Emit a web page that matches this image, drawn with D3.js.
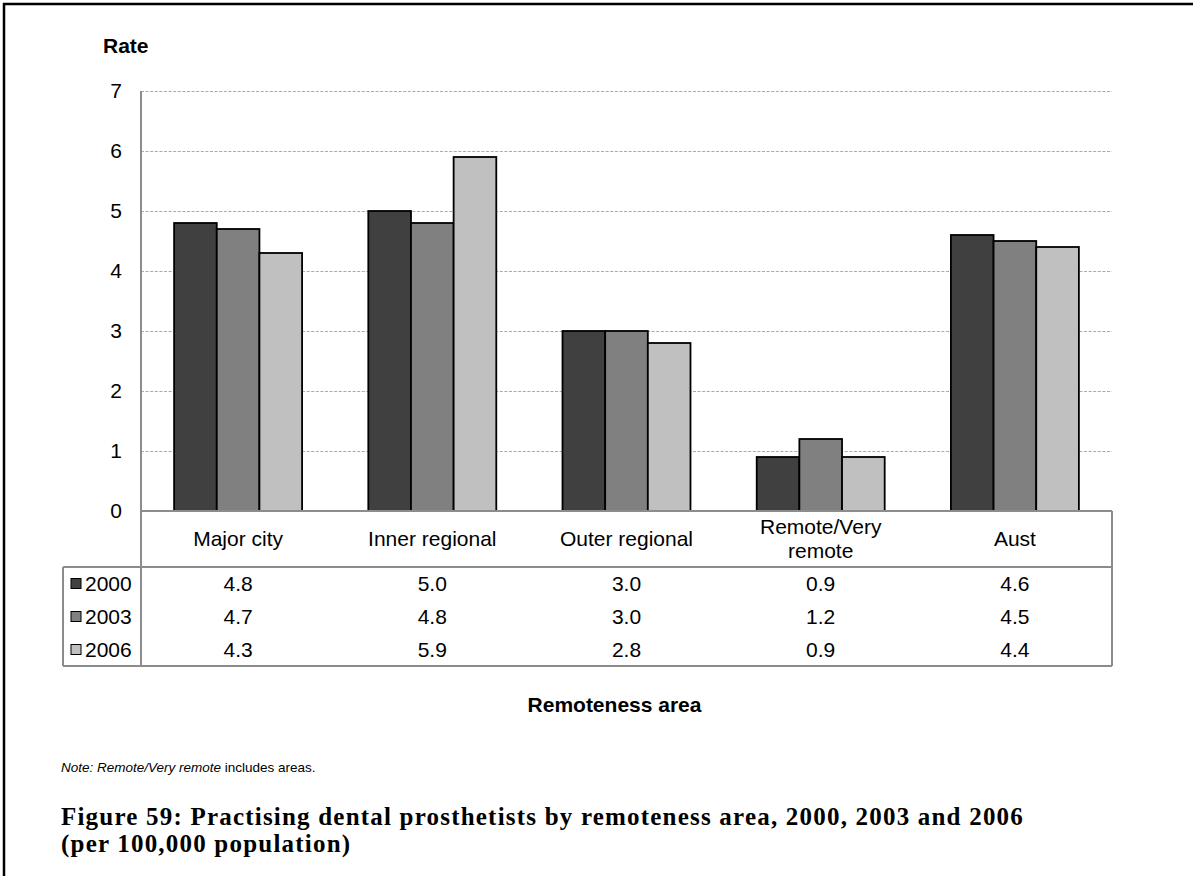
<!DOCTYPE html>
<html><head><meta charset="utf-8">
<script src="https://cdn.jsdelivr.net/npm/d3@7"></script>
<style>
body{margin:0;background:#fff}
svg{display:block}
text{font-family:"Liberation Sans",Arial,sans-serif;fill:#000}
</style>
</head><body>
<svg id="c" width="1193" height="876"></svg>
<script>
// ---- data ----
const categories = ["Major city", "Inner regional", "Outer regional", "Remote/Very remote", "Aust"];
const categoryLines = [["Major city"], ["Inner regional"], ["Outer regional"], ["Remote/Very", "remote"], ["Aust"]];
const seriesNames = ["2000", "2003", "2006"];
const values2000 = [4.8, 5.0, 3.0, 0.9, 4.6];
const values2003 = [4.7, 4.8, 3.0, 1.2, 4.5];
const values2006 = [4.3, 5.9, 2.8, 0.9, 4.4];
const yTicks = [0, 1, 2, 3, 4, 5, 6, 7];
const yAxisTitle = "Rate";
const xAxisTitle = "Remoteness area";
const noteItalic = "Note: Remote/Very remote";
const noteRest = " includes areas.";
const titleLines = ["Figure 59: Practising dental prosthetists by remoteness area, 2000, 2003 and 2006", "(per 100,000 population)"];

const seriesValues = [values2000, values2003, values2006];
const colors = ["#404040", "#808080", "#c0c0c0"];

// ---- layout ----
const plotL = 141, plotR = 1112, plotT = 91, plotB = 511;
const catRowB = 567, tableB = 666, tableL = 63;
const lineCol = "#8c8c8c";

const svg = d3.select("#c");

const y = d3.scaleLinear().domain([0, 7]).range([plotB, plotT]);
const x = d3.scaleBand().domain(categories).range([plotL, plotR]).paddingInner(0.341).paddingOuter(0.1705);
const xs = d3.scaleBand().domain(seriesNames).range([0, x.bandwidth()]);
const rowY = d3.scaleBand().domain(seriesNames).range([catRowB, tableB]);

// frame
svg.append("line").attr("x1", 3).attr("x2", 1193).attr("y1", 4).attr("y2", 4).attr("stroke", "#000").attr("stroke-width", 2.5);
svg.append("line").attr("x1", 4).attr("x2", 4).attr("y1", 3).attr("y2", 876).attr("stroke", "#000").attr("stroke-width", 2.5);

// gridlines + tick labels via axis
const yAxis = d3.axisLeft(y).tickValues(yTicks).tickSize(-(plotR - plotL)).tickPadding(19).tickFormat(d3.format("d"));
const gy = svg.append("g").attr("transform", `translate(${plotL},0)`).call(yAxis);
gy.select(".domain").remove();
gy.selectAll(".tick line")
  .attr("stroke", "#aaaaaa").attr("stroke-width", 1.2).attr("stroke-dasharray", "3,1.6")
  .attr("opacity", d => d === 0 ? 0 : 1);
gy.selectAll(".tick text").attr("font-size", 21).attr("font-family", '"Liberation Sans",Arial,sans-serif').attr("fill", "#000");

// bars
const groups = svg.append("g").selectAll("g").data(categories).join("g")
  .attr("transform", d => `translate(${x(d)},0)`);
groups.selectAll("rect").data((d, i) => seriesNames.map((s, j) => ({s, v: seriesValues[j][i], j})))
  .join("rect")
  .attr("x", d => xs(d.s))
  .attr("width", xs.bandwidth())
  .attr("y", d => y(d.v))
  .attr("height", d => y(0) - y(d.v))
  .attr("fill", d => colors[d.j])
  .attr("stroke", "#000").attr("stroke-width", 1.8);

// table lines
const tl = svg.append("g").attr("stroke", lineCol).attr("stroke-width", 2).attr("fill", "none");
tl.append("line").attr("x1", plotL).attr("x2", plotL).attr("y1", plotT).attr("y2", tableB);
tl.append("line").attr("x1", plotL).attr("x2", plotR).attr("y1", plotB).attr("y2", plotB);
tl.append("line").attr("x1", tableL).attr("x2", plotR).attr("y1", catRowB).attr("y2", catRowB);
tl.append("line").attr("x1", tableL).attr("x2", plotR).attr("y1", tableB).attr("y2", tableB);
tl.append("line").attr("x1", tableL).attr("x2", tableL).attr("y1", catRowB).attr("y2", tableB);
tl.append("line").attr("x1", plotR).attr("x2", plotR).attr("y1", plotB).attr("y2", tableB);

// category labels
const catMid = (plotB + catRowB) / 2;
svg.append("g").selectAll("text").data(categories).join("text")
  .attr("text-anchor", "middle").attr("font-size", 21)
  .attr("x", d => x(d) + x.bandwidth() / 2)
  .each(function(d, i) {
    const lines = categoryLines[i];
    const n = lines.length;
    d3.select(this).selectAll("tspan").data(lines).join("tspan")
      .attr("x", x(d) + x.bandwidth() / 2)
      .attr("y", (l, k) => catMid + (k - (n - 1) / 2) * 24)
      .attr("dy", "0.35em")
      .text(l => l);
  });

// table rows: legend keys + values
const rows = svg.append("g").selectAll("g").data(seriesNames).join("g")
  .attr("transform", d => `translate(0,${rowY(d) + rowY.bandwidth() / 2})`);
rows.append("rect").attr("x", 71).attr("y", -5).attr("width", 10).attr("height", 10)
  .attr("fill", (d, j) => colors[j]).attr("stroke", "#000").attr("stroke-width", 1);
rows.append("text").attr("x", 85).attr("dy", "0.35em").attr("font-size", 21).text(d => d);
rows.selectAll("text.v").data((d, j) => seriesValues[j].map((v, i) => ({v, c: categories[i]})))
  .join("text").attr("class", "v")
  .attr("x", d => x(d.c) + x.bandwidth() / 2).attr("dy", "0.35em")
  .attr("text-anchor", "middle").attr("font-size", 21)
  .text(d => d3.format(".1f")(d.v));

// axis titles
svg.append("text").attr("x", 103).attr("y", 53).attr("font-size", 21).attr("font-weight", "bold").text(yAxisTitle);
svg.append("text").attr("x", 614.5).attr("y", 712).attr("text-anchor", "middle").attr("font-size", 21).attr("font-weight", "bold").text(xAxisTitle);

// note
const note = svg.append("text").attr("x", 61).attr("y", 772).attr("font-size", 13.5);
note.append("tspan").attr("font-style", "italic").text(noteItalic);
note.append("tspan").text(noteRest);

// title (serif bold, sized to the reference line width)
const serif = '"Liberation Serif","Times New Roman",serif';
const titleFs = 25;
const t1 = svg.append("text").attr("x", 61).attr("y", 825)
  .style("font-family", serif).attr("font-weight", "bold")
  .attr("font-size", titleFs).text(titleLines[0]);
const w = t1.node().getComputedTextLength();
const ls = Math.max(0, (963 - w) / titleLines[0].length);
t1.attr("letter-spacing", ls);
svg.append("text").attr("x", 61).attr("y", 852)
  .style("font-family", serif).attr("font-weight", "bold")
  .attr("font-size", titleFs).attr("letter-spacing", ls).text(titleLines[1]);
</script>
</body></html>
